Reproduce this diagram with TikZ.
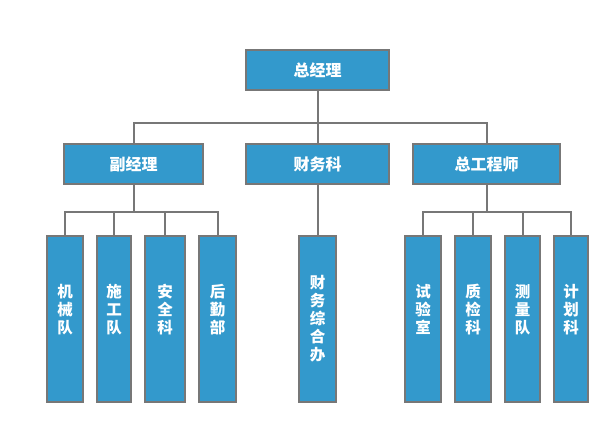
\documentclass[tikz,border=0pt]{standalone}
\usepackage{fontspec}
\newfontfamily\cjk{Noto Sans CJK SC}
\usepackage{xcolor}
\usetikzlibrary{positioning}
\definecolor{boxblue}{HTML}{3399CC}
\definecolor{boxgray}{HTML}{777777}

\begin{document}
\begin{tikzpicture}[x=1pt, y=-1pt,
  block/.style={draw=boxgray, fill=boxblue, line width=2pt, minimum height=40pt,
                inner sep=0pt, text=white, font=\cjk\bfseries\fontsize{16}{18}\selectfont},
  col/.style={draw=boxgray, fill=boxblue, line width=2pt, minimum width=36pt,
              minimum height=166pt, inner sep=0pt, align=center, text=white,
              font=\cjk\bfseries\fontsize{15.5}{18}\selectfont},
  link/.style={draw=boxgray, line width=2pt}]

  \useasboundingbox (0,0) rectangle (616,425);

  % top level
  \node[block, minimum width=143pt] (zjl) at (317.5,70) {总经理};

  % second level
  \node[block, minimum width=139pt] (fjl)  at (133.5,164) {副经理};
  \node[block, minimum width=143pt] (cwk)  at (317.5,164) {财务科};
  \node[block, minimum width=147pt] (zgcs) at (486.5,164) {总工程师};

  % third level (three-character columns sit a little high)
  \node[col]                     (jxd) at (65,319)    {机\\械\\队\\[2pt]\mbox{}};
  \node[col, minimum width=34pt] (sgd) at (114,319)   {施\\工\\队\\[2pt]\mbox{}};
  \node[col, minimum width=40pt] (aqk) at (165,319)   {安\\全\\科\\[2pt]\mbox{}};
  \node[col, minimum width=37pt] (hqb) at (217.5,319) {后\\勤\\部\\[2pt]\mbox{}};

  \node[col, minimum width=37pt] (cwzh) at (317.5,319) {财\\务\\综\\合\\办};

  \node[col] (syd) at (423,319)   {试\\验\\室\\[2pt]\mbox{}};
  \node[col] (zjk) at (473,319)   {质\\检\\科\\[2pt]\mbox{}};
  \node[col, minimum width=35pt] (cld) at (522.5,319) {测\\量\\队\\[2pt]\mbox{}};
  \node[col, minimum width=34pt] (jhk) at (571,319)   {计\\划\\科\\[2pt]\mbox{}};

  % connectors
  \foreach \n in {fjl,cwk,zgcs}
    \draw[link] (zjl.south) -- ++(0,32) -| (\n.north);
  \foreach \n in {jxd,sgd,aqk,hqb}
    \draw[link] (fjl.south) -- ++(0,27) -| (\n.north);
  \draw[link] (cwk.south) -- (cwzh.north);
  \foreach \n in {syd,zjk,cld,jhk}
    \draw[link] (zgcs.south) -- ++(0,27) -| (\n.north);
\end{tikzpicture}
\end{document}
